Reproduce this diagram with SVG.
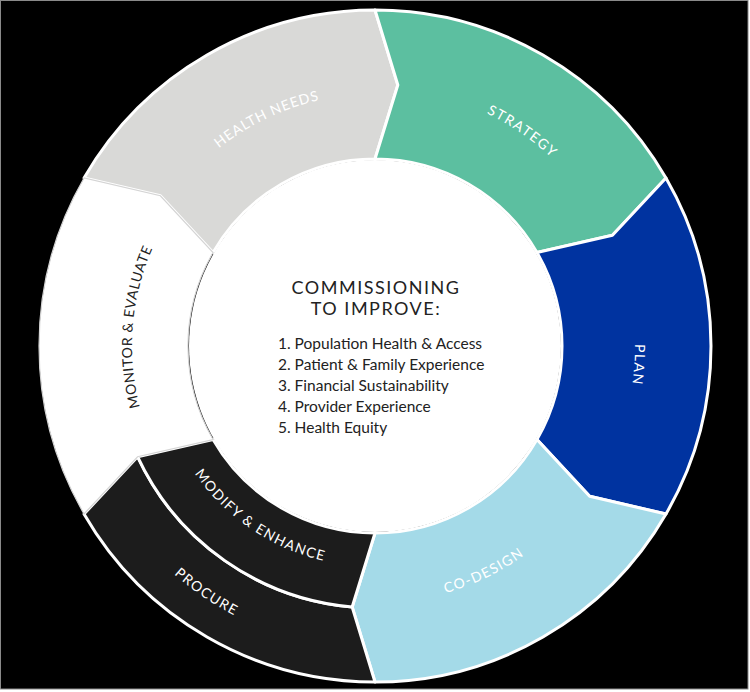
<svg xmlns="http://www.w3.org/2000/svg" width="750" height="692" viewBox="0 0 750 692">
<style>
.seg{stroke:#ffffff;stroke-width:3;stroke-linejoin:round}
.lbl{font-family:Lato,"Noto Sans",sans-serif;font-size:14px;letter-spacing:1.3px;fill:#ffffff}
.dark{fill:#222222}
.title{font-family:Lato,"Noto Sans",sans-serif;font-size:18px;letter-spacing:1.5px;fill:#222222;text-anchor:middle}
.item{font-family:Lato,"Noto Sans",sans-serif;font-size:15.5px;fill:#222222}
</style>
<defs>
<path id="pHealth" d="M131.03,282.90 A252,252 0 0 1 479.50,116.69"/>
<path id="pStrategy" d="M306.05,97.38 A258,258 0 0 1 631.81,321.27"/>
<path id="pPlan" d="M555.94,159.29 A260,260 0 0 1 527.52,556.57"/>
<path id="pMonitor" d="M204.38,519.02 A243,243 0 0 1 234.23,147.92"/>
<path id="pCodesign" d="M269.65,580.42 A257,257 0 0 0 624.15,409.04"/>
<path id="pProcure" d="M72.45,375.66 A304,304 0 0 0 456.75,638.80"/>
<path id="pModify" d="M155.21,369.10 A221,221 0 0 0 435.92,558.44"/>
</defs>
<rect x="0" y="0" width="750" height="692" fill="#ffffff"/>
<rect x="0.5" y="0.5" width="747.5" height="688.5" fill="#000000" stroke="#8a8a8a" stroke-width="1"/>
<g id="health-needs">
<path class="seg" fill="#d9d9d7" d="M84.02,178 A336,336 0 0 1 375,10 L397.83,85 L375,159 A187,187 0 0 0 213.05,252.5 L160.38,195.72 Z"/>
<text class="lbl" style="letter-spacing:0.9px"><textPath href="#pHealth" startOffset="50%" text-anchor="middle">HEALTH NEEDS</textPath></text>
</g>
<g id="strategy">
<path class="seg" fill="#5cbfa0" d="M375,10 A336,336 0 0 1 665.98,178 L612.45,235.27 L536.95,252.5 A187,187 0 0 0 375,159 L397.83,85 Z"/>
<text class="lbl" style="letter-spacing:1.5px"><textPath href="#pStrategy" startOffset="50%" text-anchor="middle">STRATEGY</textPath></text>
</g>
<g id="plan">
<path class="seg" fill="#0033a0" d="M665.98,178 A336,336 0 0 1 665.98,514 L589.62,496.28 L536.95,439.5 A187,187 0 0 0 536.95,252.5 L612.45,235.27 Z"/>
<text class="lbl"><textPath href="#pPlan" startOffset="50%" text-anchor="middle">PLAN</textPath></text>
</g>
<g id="co-design">
<path class="seg" fill="#a4dae8" d="M665.98,514 A336,336 0 0 1 375,682 L352.17,607 L375,533 A187,187 0 0 0 536.95,439.5 L589.62,496.28 Z"/>
<text class="lbl"><textPath href="#pCodesign" startOffset="50%" text-anchor="middle">CO-DESIGN</textPath></text>
</g>
<g id="procure">
<path class="seg" fill="#1c1c1c" d="M375,682 A336,336 0 0 1 84.02,514 L137.55,456.73 A262,262 0 0 0 352.17,607 Z"/>
<text class="lbl"><textPath href="#pProcure" startOffset="50%" text-anchor="middle">PROCURE</textPath></text>
</g>
<g id="modify-enhance">
<path class="seg" fill="#1c1c1c" d="M352.17,607 A262,262 0 0 1 137.55,456.73 L213.05,439.5 A187,187 0 0 0 375,533 Z"/>
<text class="lbl"><textPath href="#pModify" startOffset="50%" text-anchor="middle">MODIFY &amp; ENHANCE</textPath></text>
</g>
<g id="monitor-evaluate">
<path fill="#ffffff" stroke="#d4d4d4" stroke-width="1.2" d="M84.02,514 A336,336 0 0 1 84.02,178 L160.38,195.72 L213.05,252.5 A187,187 0 0 0 213.05,439.5 L137.55,456.73 Z"/>
<text class="lbl dark" style="letter-spacing:0.6px"><textPath href="#pMonitor" startOffset="50%" text-anchor="middle">MONITOR &amp; EVALUATE</textPath></text>
</g>
<g id="center">
<circle cx="375" cy="346" r="186" fill="#ffffff"/>
<text class="title" x="376" y="294">COMMISSIONING</text>
<text class="title" x="376" y="315">TO IMPROVE:</text>
<text class="item" x="278" y="349">1. Population Health &amp; Access</text>
<text class="item" x="278" y="370">2. Patient &amp; Family Experience</text>
<text class="item" x="278" y="391">3. Financial Sustainability</text>
<text class="item" x="278" y="412">4. Provider Experience</text>
<text class="item" x="278" y="433">5. Health Equity</text>
</g>
</svg>
